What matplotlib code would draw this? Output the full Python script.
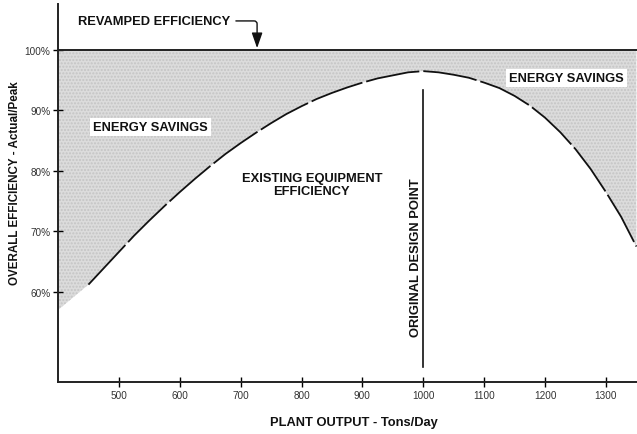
import matplotlib
matplotlib.use("Agg")
import matplotlib.pyplot as plt

# curve (Tons/Day vs % efficiency)
plant_output = [450, 475, 500, 525, 550, 575, 600, 625, 650, 675, 700, 725, 750, 775,
                800, 825, 850, 875, 900, 925, 950, 975, 1000, 1025, 1050, 1075, 1100,
                1125, 1150, 1175, 1200, 1225, 1250, 1275, 1300, 1325, 1350]
existing_eff = [61.2, 63.9, 66.6, 69.3, 71.8, 74.2, 76.5, 78.7, 80.8, 82.8, 84.6, 86.3, 87.9, 89.4,
                90.7, 91.9, 92.9, 93.8, 94.6, 95.3, 95.8, 96.3, 96.5, 96.3, 95.9, 95.4, 94.6,
                93.7, 92.4, 90.8, 88.8, 86.4, 83.6, 80.3, 76.5, 72.4, 67.5]
# shaded area starts at the left axis, a bit below the drawn curve
shade_x = [400] + plant_output
shade_y = [57.0] + existing_eff
revamped_eff = 100

x_ticks = [500, 600, 700, 800, 900, 1000, 1100, 1200, 1300]
y_ticks = [60, 70, 80, 90, 100]
y_tick_labels = ["60%", "70%", "80%", "90%", "100%"]
design_point = 1000

plt.rcParams['font.family'] = ['Liberation Sans', 'DejaVu Sans']

fig = plt.figure(figsize=(6.37, 4.35), dpi=100)
ax = fig.add_axes([58 / 637, 52 / 435, 1 - 58 / 637, 378 / 435])

ax.fill_between(shade_x, shade_y, revamped_eff, facecolor='#dcdcdc',
                edgecolor='#c4c4c4', hatch='.....', linewidth=0, zorder=1)
ax.plot([400, 1351], [revamped_eff, revamped_eff], color='#222222', lw=1.4, zorder=3)
line, = ax.plot(plant_output, existing_eff, color='#111111', lw=1.3, zorder=3)
line.set_dashes([30, 2.2])
ax.plot([design_point, design_point], [47.6, 93.4], color='#111111', lw=1.2, zorder=3)

bold = dict(fontsize=9.3, fontweight='bold', color='#111111')
white_box = dict(boxstyle='square,pad=0.25', facecolor='white', edgecolor='none')

ax.annotate("REVAMPED EFFICIENCY", xy=(727, 100.3), xytext=(433, 104.8),
            ha='left', va='center', **bold,
            arrowprops=dict(arrowstyle='-|>,head_length=1.0,head_width=0.35',
                            connectionstyle='angle,angleA=0,angleB=90,rad=3',
                            color='#111111', lw=1.0, shrinkA=2, shrinkB=0,
                            relpos=(1, 0.5)))
ax.text(552, 87.3, "ENERGY SAVINGS", ha='center', va='center', bbox=white_box, **bold)
ax.text(1235, 95.4, "ENERGY SAVINGS", ha='center', va='center', bbox=white_box, **bold)
ax.text(817, 77.8, "EXISTING EQUIPMENT\nEFFICIENCY", ha='center', va='center',
        linespacing=1.1, **bold)
ax.text(988, 65.9, "ORIGINAL DESIGN POINT", ha='center', va='center',
        rotation=90, **bold)

ax.set_xlim(400, 1351)
ax.set_ylim(45.1, 107.6)
ax.set_xticks(x_ticks)
ax.set_yticks(y_ticks)
ax.set_yticklabels(y_tick_labels)
ax.tick_params(direction='inout', length=7, width=1.0, labelsize=7.2,
               labelcolor='#333333', pad=2)

for side in ['top', 'right']:
    ax.spines[side].set_visible(False)
for side in ['left', 'bottom']:
    ax.spines[side].set_linewidth(1.4)
    ax.spines[side].set_color('#222222')

fig.text(15 / 637, 1 - 183 / 435, "OVERALL EFFICIENCY - Actual/Peak", rotation=90,
         ha='center', va='center', fontsize=8.4, fontweight='bold', color='#111111')
fig.text(354 / 637, 1 - 423 / 435, "PLANT OUTPUT - Tons/Day",
         ha='center', va='center', **bold)

fig.savefig("out.png", dpi=100)
